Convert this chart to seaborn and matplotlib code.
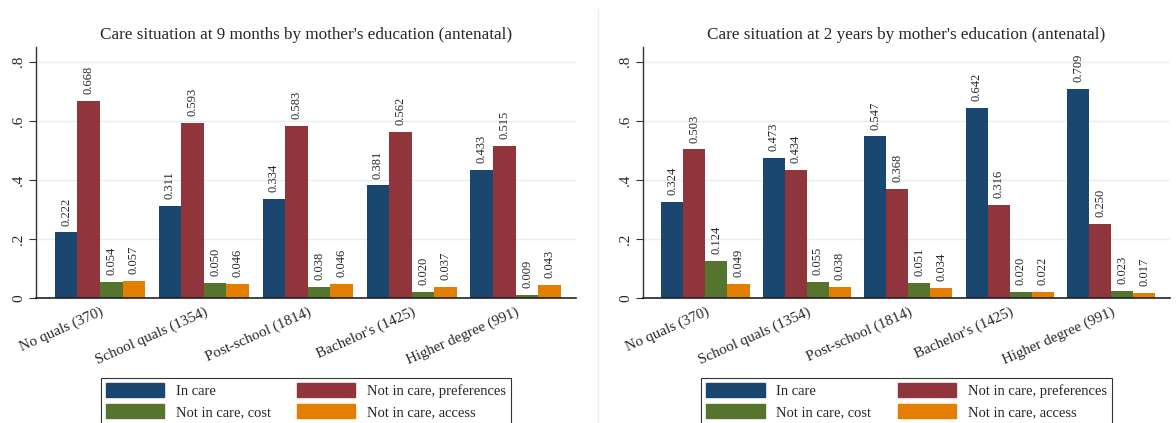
import pandas as pd
import seaborn as sns
import matplotlib.pyplot as plt
from matplotlib.lines import Line2D

# Care situation shares by mother's education
education = ["No quals (370)", "School quals (1354)", "Post-school (1814)",
             "Bachelor's (1425)", "Higher degree (991)"]
statuses = ["In care", "Not in care, preferences", "Not in care, cost", "Not in care, access"]

# 9 months
in_care_9m = [0.222, 0.311, 0.334, 0.381, 0.433]
prefs_9m = [0.668, 0.593, 0.583, 0.562, 0.515]
cost_9m = [0.054, 0.050, 0.038, 0.020, 0.009]
access_9m = [0.057, 0.046, 0.046, 0.037, 0.043]

# 2 years
in_care_2y = [0.324, 0.473, 0.547, 0.642, 0.709]
prefs_2y = [0.503, 0.434, 0.368, 0.316, 0.250]
cost_2y = [0.124, 0.055, 0.051, 0.020, 0.023]
access_2y = [0.049, 0.038, 0.034, 0.022, 0.017]

titles = ["Care situation at 9 months by mother's education (antenatal)",
          "Care situation at 2 years by mother's education (antenatal)"]
y_ticks = [0, 0.2, 0.4, 0.6, 0.8]
y_ticklabels = ["0", ".2", ".4", ".6", ".8"]

colors = ["#1a476f", "#90353b", "#55752f", "#e37e00"]


def long_form(series):
    rows = []
    for status, vals in zip(statuses, series):
        for edu, v in zip(education, vals):
            rows.append({"education": edu, "status": status, "share": v})
    return pd.DataFrame(rows)


panels = [long_form([in_care_9m, prefs_9m, cost_9m, access_9m]),
          long_form([in_care_2y, prefs_2y, cost_2y, access_2y])]

sns.set_style("white")
plt.rcParams["font.family"] = ["Liberation Serif", "DejaVu Serif"]

W, H = 1176, 423
fig = plt.figure(figsize=(W / 100, H / 100), dpi=100)

# axes boxes in pixels: left, right, bottom(y of 0), top
boxes = [(36, 576, 298, 47), (643, 1170, 298, 47)]

for df, title, (l, r, b, t) in zip(panels, titles, boxes):
    ax = fig.add_axes([l / W, 1 - b / H, (r - l) / W, (b - t) / H])
    sns.barplot(data=df, x="education", y="share", hue="status",
                hue_order=statuses, palette=colors, width=0.87, gap=0,
                saturation=1, legend=False, ax=ax, errorbar=None,
                edgecolor="none", linewidth=0)
    for c in ax.containers:
        ax.bar_label(c, fmt="%.3f", rotation=90, padding=5, fontsize=9)
    ax.set_ylim(0, 0.85)
    ax.set_xlim(-0.615, 4.58)
    ax.set_yticks(y_ticks)
    ax.set_yticklabels(y_ticklabels, rotation=90, va="center", fontsize=11)
    ax.tick_params(axis="y", length=5, width=0.8, color="#333333", pad=3, left=True)
    ax.tick_params(axis="x", length=0, pad=5)
    ax.set_xticks(range(len(education)))
    ax.set_xticklabels(education, rotation=24, ha="right", rotation_mode="anchor", fontsize=10.8)
    ax.set_xlabel("")
    ax.set_ylabel("")
    ax.set_title(title, fontsize=12.3, pad=6)
    for y in y_ticks[1:]:
        ax.axhline(y, color="#e6eef0", lw=1, zorder=0)
    for s in ["top", "right"]:
        ax.spines[s].set_visible(False)
    ax.spines["left"].set_color("#333333")
    ax.spines["left"].set_linewidth(1)
    ax.spines["bottom"].set_color("#222222")
    ax.spines["bottom"].set_linewidth(1.2)
    ax.set_axisbelow(True)

    # row-wise legend order: matplotlib fills columns first
    order = [0, 2, 1, 3]
    handles = [plt.Rectangle((0, 0), 1, 1, color=colors[i]) for i in order]
    labels = [statuses[i] for i in order]
    leg = ax.legend(handles, labels, ncol=2, loc="upper center",
                    bbox_to_anchor=((l + r) / 2 / W, 1 - 371 / H),
                    bbox_transform=fig.transFigure, fontsize=10.5,
                    frameon=True, fancybox=False, edgecolor="black",
                    handlelength=4.0, handleheight=1.1, columnspacing=1.8,
                    handletextpad=0.8, labelspacing=0.4, borderpad=0.35)
    leg.get_frame().set_linewidth(0.8)

fig.add_artist(Line2D([598 / W, 598 / W], [0, 1 - 9 / H], color="#e6eef0", lw=1))

fig.savefig("out.png", dpi=100)
